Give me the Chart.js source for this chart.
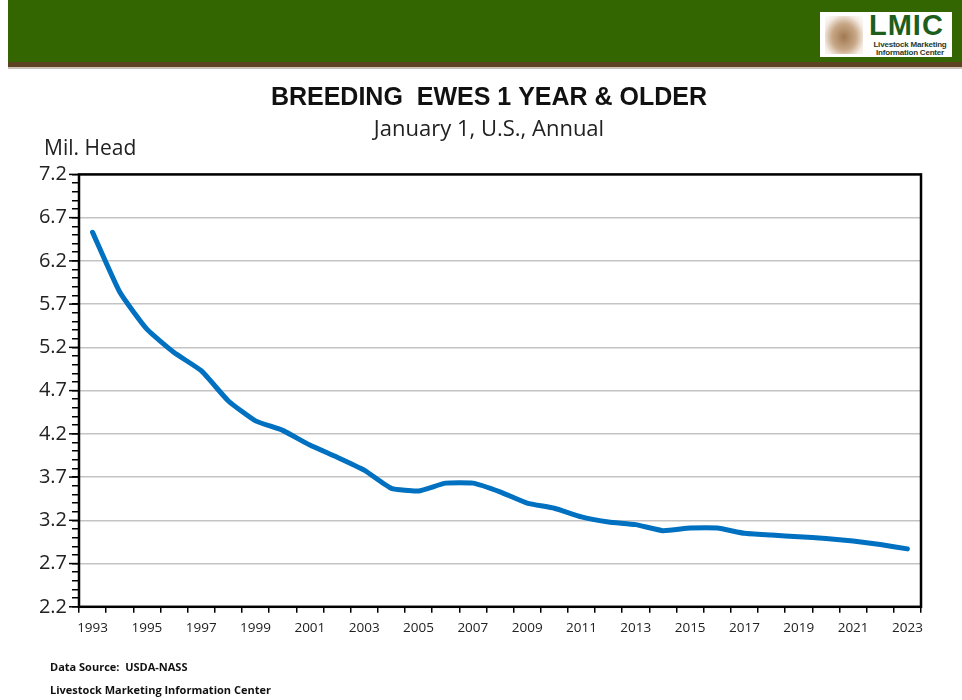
<!DOCTYPE html>
<html>
<head>
<meta charset="utf-8">
<script src="https://cdn.jsdelivr.net/npm/chart.js@4.4.1/dist/chart.umd.min.js"></script>
<style>
  body { margin: 0; background: #fff; font-family: "Open Sans", sans-serif; }
  #wrap { position: relative; width: 962px; height: 700px; overflow: hidden; }
  #chart { position: absolute; left: 0; top: 0; }
  .band { position: absolute; left: 8px; top: 0; width: 954px; height: 62px; background: #336600; }
  .band2 { position: absolute; left: 8px; top: 62px; width: 954px; height: 5px; background: #5e4322; }
  .band3 { position: absolute; left: 8px; top: 67px; width: 954px; height: 2px; background: #cbc2b8; }
  .logo { position: absolute; left: 820px; top: 12px; width: 132px; height: 45px; background: #fff; }
  .logo .pic { position: absolute; left: 5px; top: 4px; width: 38px; height: 38px;
    background: radial-gradient(ellipse at 50% 55%, #a07850 0%, #c8a888 45%, #f4ece4 75%, #fff 100%); }
  .logo .big { position: absolute; left: 49px; top: -3px; font: bold 29px "Liberation Sans", Arial, sans-serif; color: #1d5e1d; letter-spacing: 1px; }
  .logo .small { position: absolute; left: 48px; top: 29px; width: 84px; text-align: center; font: bold 8px "Liberation Sans", Arial, sans-serif; color: #2a3a2a; line-height: 8px; letter-spacing: -0.2px; }
  .unit { position: absolute; left: 44px; top: 133px; font-size: 21px; color: #222; }
  .foot { position: absolute; left: 50px; font-size: 11px; font-weight: bold; color: #111; }
</style>
</head>
<body>
<div id="wrap">
  <canvas id="chart" width="962" height="700"></canvas>
  <div class="band"></div>
  <div class="band2"></div>
  <div class="band3"></div>
  <div class="logo">
    <div class="pic"></div>
    <div class="big">LMIC</div>
    <div class="small">Livestock Marketing<br>Information Center</div>
  </div>
  <div class="unit">Mil. Head</div>
  <div class="foot" style="top:659px">Data Source:&nbsp; USDA-NASS</div>
  <div class="foot" style="top:682px">Livestock Marketing Information Center</div>
</div>
<script>
const years = ['1993','1994','1995','1996','1997','1998','1999','2000','2001','2002',
  '2003','2004','2005','2006','2007','2008','2009','2010','2011','2012',
  '2013','2014','2015','2016','2017','2018','2019','2020','2021','2022','2023'];
const ewes = [6.53, 5.84, 5.41, 5.14, 4.93, 4.58, 4.35, 4.24, 4.07, 3.93,
  3.78, 3.57, 3.54, 3.63, 3.63, 3.53, 3.40, 3.34, 3.24, 3.18,
  3.15, 3.08, 3.11, 3.11, 3.05, 3.03, 3.01, 2.99, 2.96, 2.92, 2.87];
const yMin = 2.2, yMax = 7.2, yMajor = 0.5, yMinor = 0.1;

function isMajor(v) {
  return Math.round((v - yMin) * 10) % Math.round(yMajor * 10) === 0;
}

// frame around the plot + longer major ticks on the y axis
const frame = {
  id: 'frame',
  afterDraw(chart) {
    const a = chart.chartArea, ctx = chart.ctx, y = chart.scales.y;
    ctx.save();
    ctx.strokeStyle = '#000';
    ctx.lineWidth = 1.5;
    y.ticks.forEach(t => {
      if (!isMajor(t.value)) return;
      const py = y.getPixelForValue(t.value);
      ctx.beginPath();
      ctx.moveTo(a.left - 10, py);
      ctx.lineTo(a.left, py);
      ctx.stroke();
    });
    ctx.lineWidth = 2.5;
    ctx.strokeRect(a.left, a.top, a.right - a.left, a.bottom - a.top);
    ctx.restore();
  }
};

new Chart(document.getElementById('chart'), {
  type: 'line',
  data: {
    labels: years,
    datasets: [{
      data: ewes,
      borderColor: '#0070c0',
      borderWidth: 5,
      tension: 0.15,
      pointRadius: 0,
      borderCapStyle: 'round',
      borderJoinStyle: 'round',
      fill: false
    }]
  },
  options: {
    responsive: false,
    animation: false,
    // title is centred a bit right of the page centre, so the box runs past the right edge
    layout: { padding: { left: 0, right: -16, top: 83, bottom: 57 } },
    plugins: {
      legend: { display: false },
      tooltip: { enabled: false },
      title: {
        display: true,
        text: 'BREEDING  EWES 1 YEAR & OLDER',
        color: '#111',
        font: { family: '"Liberation Sans", Arial, sans-serif', size: 25, weight: 'bold' },
        padding: { top: 0, bottom: 4 }
      },
      subtitle: {
        display: true,
        text: 'January 1, U.S., Annual',
        color: '#222',
        font: { family: '"Open Sans", sans-serif', size: 22 },
        padding: { top: 0, bottom: 31 }
      }
    },
    scales: {
      x: {
        offset: true,
        grid: { offset: true, drawOnChartArea: false, color: '#000', tickLength: 6, lineWidth: 1.5 },
        border: { display: false },
        ticks: {
          autoSkip: false, maxRotation: 0, padding: 7, color: '#222',
          font: { family: '"Open Sans", sans-serif', size: 13.5 },
          callback: (v, i) => (i % 2 === 0 ? years[i] : '')
        }
      },
      y: {
        min: yMin, max: yMax,
        afterFit: s => { s.width = 79; },
        grid: {
          color: c => (isMajor(c.tick.value) ? '#c4c4c4' : 'rgba(0,0,0,0)'),
          tickColor: '#000',
          lineWidth: 1.5,
          tickLength: 7
        },
        border: { display: false },
        ticks: {
          stepSize: yMinor, autoSkip: false, padding: 5, color: '#222',
          font: { family: '"Open Sans", sans-serif', size: 20 },
          callback: v => (isMajor(v) ? v.toFixed(1) : '')
        }
      },
      // empty spacer on the right
      yr: {
        position: 'right',
        min: yMin, max: yMax,
        afterFit: s => { s.width = 57; },
        grid: { display: false },
        border: { display: false },
        ticks: { display: false }
      }
    }
  },
  plugins: [frame]
});
</script>
</body>
</html>
